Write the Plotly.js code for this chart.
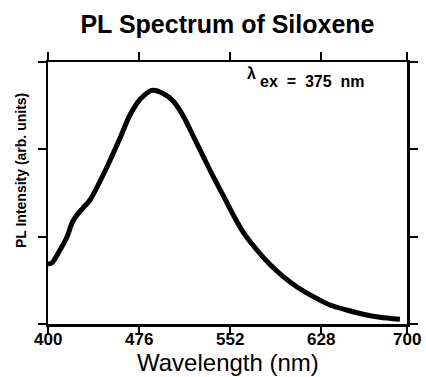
<!DOCTYPE html>
<html>
<head>
<meta charset="utf-8">
<script src="https://cdn.plot.ly/plotly-3.0.1.min.js"></script>
<style>html,body{margin:0;padding:0;background:#fff;}#chart{width:426px;height:377px;}</style>
</head>
<body>
<div id="chart"></div>
<script>
const wavelength = [400, 403.3, 410, 415.9, 420.1, 424.2, 429.2, 435.1, 449.3, 460.2, 468.5, 476.9, 486.7, 496.3, 504.7, 513.1, 521.4, 529.8, 538.1, 546.5, 554.8, 563.2, 574.4, 585.5, 596.6, 607.8, 621.7, 635.6, 649.6, 663.5, 677.4, 694.1];
const intensity  = [0.687, 0.70, 0.847, 0.996, 1.157, 1.248, 1.328, 1.42, 1.798, 2.13, 2.393, 2.57, 2.675, 2.64, 2.55, 2.38, 2.15, 1.916, 1.687, 1.47, 1.25, 1.05, 0.85, 0.68, 0.542, 0.427, 0.313, 0.218, 0.16, 0.111, 0.077, 0.054];
const xTicks = [400, 476, 552, 628, 700];
const xTickLabels = ['400', '476', '552', '628', '700'];
const yTicks = [0, 1, 2, 3];
const titleText = "PL Spectrum of Siloxene";
const xTitle = "Wavelength (nm)";
const yTitle = "PL Intensity (arb. units)";

const trace = {
  x: wavelength, y: intensity, type: 'scatter', mode: 'lines',
  line: {color: '#000', width: 5, shape: 'spline', smoothing: 0.8},
  hoverinfo: 'skip'
};
const F = 'Liberation Sans, Arial, Helvetica, sans-serif';
const tickAnns = xTicks.map((v, i) => ({
  x: v, y: -0.061, xref: 'x', yref: 'paper', text: '<b>' + xTickLabels[i] + '</b>',
  showarrow: false, font: {family: F, size: 17, color: '#000'}, xanchor: 'center', yanchor: 'middle', borderpad: 0
}));
const layout = {
  width: 426, height: 377,
  margin: {l: 48, r: 19, t: 62, b: 53},
  paper_bgcolor: '#fff', plot_bgcolor: '#fff',
  showlegend: false,
  title: {text: '<b>' + titleText + '</b>', font: {family: F, size: 25, color: '#000'}, x: 0.534, xanchor: 'center', y: 0.935, yanchor: 'middle'},
  xaxis: {
    range: [400, 700], tickmode: 'array', tickvals: xTicks, showticklabels: false,
    ticks: 'outside', ticklen: 8, tickwidth: 2, tickcolor: '#000',
    showline: true, linecolor: '#000', linewidth: 2.5, mirror: 'ticks',
    showgrid: false, zeroline: false
  },
  yaxis: {
    range: [0, 3], tickmode: 'array', tickvals: yTicks, showticklabels: false,
    ticks: 'outside', ticklen: 8, tickwidth: 2, tickcolor: '#000',
    showline: true, linecolor: '#000', linewidth: 2.5, mirror: 'ticks',
    showgrid: false, zeroline: false
  },
  annotations: tickAnns.concat([
    {x: 0.5, y: -0.2023, xref: 'paper', yref: 'paper', text: xTitle, showarrow: false, font: {family: F, size: 24, color: '#000'}, xanchor: 'center', yanchor: 'bottom', borderpad: 0},
    {x: -0.075, y: 0.584, xref: 'paper', yref: 'paper', text: '<b>' + yTitle + '</b>', textangle: -90, showarrow: false, font: {family: F, size: 14, color: '#000'}, xanchor: 'center', yanchor: 'middle'},
    {x: 570.4, y: 2.87, xref: 'x', yref: 'y', text: '<b>λ</b>', showarrow: false, font: {family: F, size: 16, color: '#000'}, xanchor: 'center', yanchor: 'middle'},
    {x: 575.5, y: 2.78, xref: 'x', yref: 'y', text: '<b>ex&nbsp;&nbsp;=&nbsp;&nbsp;375&nbsp;&nbsp;nm</b>', showarrow: false, font: {family: F, size: 16, color: '#000'}, xanchor: 'left', yanchor: 'middle'}
  ])
};
Plotly.newPlot('chart', [trace], layout, {staticPlot: true, displayModeBar: false});
</script>
</body>
</html>
